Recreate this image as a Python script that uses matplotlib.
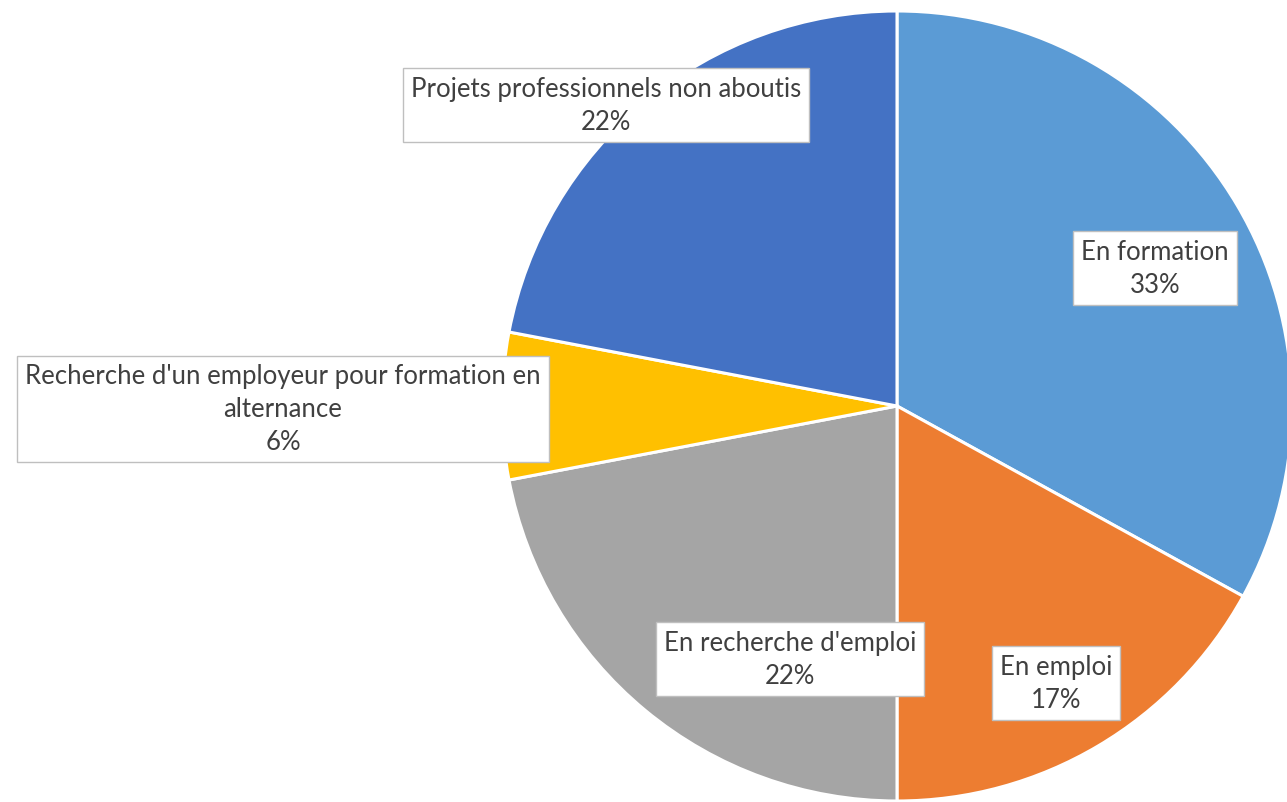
import matplotlib.pyplot as plt

# situation des jeunes (parts en %)
categories = ['En formation', 'En emploi', "En recherche d'emploi",
              "Recherche d'un employeur pour formation en\nalternance",
              'Projets professionnels non aboutis']
values = [33, 17, 22, 6, 22]
colors = ['#5B9BD5', '#ED7D31', '#A5A5A5', '#FFC000', '#4472C4']

# label box centres, in pixels from the top-left corner
label_pos = [(1155, 269), (1056, 684), (790, 660), (283, 410), (606, 106)]

W, H = 1287, 803
fig = plt.figure(figsize=(W / 100, H / 100), dpi=100)
ax = fig.add_axes([0, 0, 1, 1])

ax.pie(values, colors=colors, startangle=90, counterclock=False,
       center=(897, H - 407), radius=395, frame=True,
       wedgeprops=dict(edgecolor='white', linewidth=2.2))
ax.set_xlim(0, W)
ax.set_ylim(0, H)
ax.set_aspect('equal')
ax.axis('off')

for name, v, (px, py) in zip(categories, values, label_pos):
    ax.text(px, H - py, f'{name}\n{v}%', ha='center', va='center',
            fontsize=18.5, family='Lato', color='#404040', linespacing=1.4,
            bbox=dict(boxstyle='square,pad=0.3', facecolor='white',
                      edgecolor='#BFBFBF', linewidth=1))

fig.savefig('out.png', dpi=100)
